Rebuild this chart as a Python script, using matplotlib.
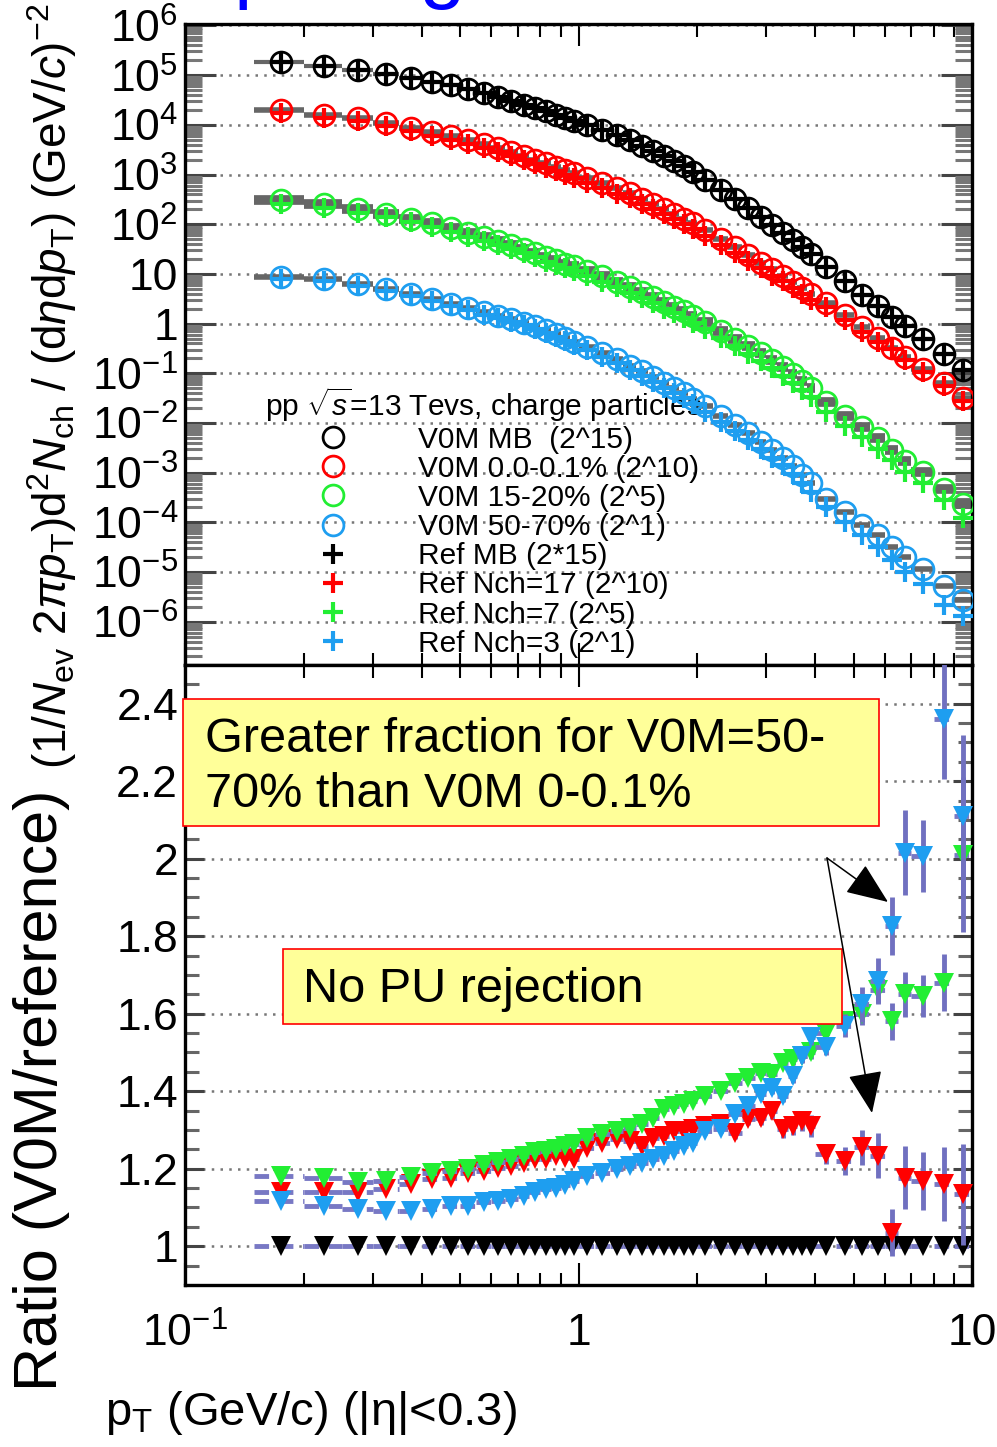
import numpy as np
import matplotlib
matplotlib.use("Agg")
import matplotlib.pyplot as plt
from matplotlib.lines import Line2D
from matplotlib.patches import Rectangle, FancyArrowPatch
from matplotlib.ticker import FixedLocator, FixedFormatter, LogLocator, MultipleLocator, NullFormatter

plt.rcParams['font.family'] = ['Liberation Sans', 'DejaVu Sans']
plt.rcParams['mathtext.fontset'] = 'custom'
plt.rcParams['mathtext.rm'] = 'Liberation Sans'
plt.rcParams['mathtext.it'] = 'Liberation Sans:italic'
plt.rcParams['mathtext.bf'] = 'Liberation Sans:bold'
plt.rcParams['mathtext.sf'] = 'Liberation Sans'

# pT binning (GeV/c)
pt_edges = [0.15, 0.2, 0.25, 0.3, 0.35, 0.4, 0.45, 0.5, 0.55, 0.6, 0.65, 0.7, 0.75, 0.8,
            0.85, 0.9, 0.95, 1.0, 1.1, 1.2, 1.3, 1.4, 1.5, 1.6, 1.7, 1.8, 1.9, 2.0, 2.2,
            2.4, 2.6, 2.8, 3.0, 3.2, 3.4, 3.6, 3.8, 4.0, 4.5, 5.0, 5.5, 6.0, 6.5, 7.0,
            8.0, 9.0, 10.0]

# spectra, log10 of the scaled yield
mb_v0m_log = [5.27, 5.19, 5.11, 5.03, 4.95, 4.87, 4.80, 4.72, 4.64, 4.56, 4.49, 4.41, 4.34,
              4.27, 4.20, 4.14, 4.08, 3.99, 3.89, 3.79, 3.69, 3.58, 3.48, 3.38, 3.28, 3.17,
              3.06, 2.89, 2.69, 2.50, 2.32, 2.15, 1.99, 1.83, 1.69, 1.55, 1.41, 1.14, 0.85,
              0.58, 0.35, 0.14, -0.04, -0.31, -0.62, -0.94]
mb_ref_log = [5.27, 5.19, 5.11, 5.03, 4.95, 4.87, 4.80, 4.72, 4.64, 4.56, 4.49, 4.41, 4.34,
              4.27, 4.20, 4.14, 4.08, 3.99, 3.89, 3.79, 3.69, 3.58, 3.48, 3.38, 3.28, 3.17,
              3.06, 2.89, 2.69, 2.50, 2.32, 2.15, 1.99, 1.83, 1.69, 1.55, 1.41, 1.14, 0.85,
              0.58, 0.35, 0.14, -0.04, -0.31, -0.62, -0.94]
hm_v0m_log = [4.30, 4.20, 4.13, 4.03, 3.94, 3.85, 3.77, 3.69, 3.61, 3.53, 3.46, 3.38, 3.30,
              3.23, 3.16, 3.09, 3.03, 2.94, 2.83, 2.72, 2.62, 2.51, 2.41, 2.31, 2.21, 2.11,
              2.02, 1.88, 1.70, 1.54, 1.38, 1.23, 1.09, 0.96, 0.83, 0.71, 0.60, 0.42, 0.17,
              -0.06, -0.28, -0.49, -0.67, -0.91, -1.19, -1.50]
hm_ref_log = [4.24, 4.14, 4.07, 3.97, 3.88, 3.78, 3.70, 3.61, 3.53, 3.45, 3.38, 3.30, 3.21,
              3.14, 3.07, 3.00, 2.94, 2.84, 2.73, 2.61, 2.52, 2.41, 2.30, 2.20, 2.10, 2.00,
              1.91, 1.76, 1.58, 1.43, 1.26, 1.11, 0.96, 0.85, 0.71, 0.59, 0.48, 0.33, 0.08,
              -0.16, -0.37, -0.51, -0.74, -0.98, -1.25, -1.56]
mid_v0m_log = [2.48, 2.40, 2.30, 2.21, 2.11, 2.02, 1.92, 1.83, 1.75, 1.67, 1.59, 1.51, 1.43,
               1.35, 1.28, 1.21, 1.15, 1.06, 0.95, 0.84, 0.73, 0.63, 0.53, 0.43, 0.34, 0.25,
               0.16, 0.03, -0.14, -0.30, -0.45, -0.60, -0.74, -0.88, -1.02, -1.16, -1.30,
               -1.58, -1.86, -2.09, -2.31, -2.54, -2.77, -2.99, -3.32, -3.62]
mid_ref_log = [2.41, 2.33, 2.23, 2.14, 2.04, 1.94, 1.84, 1.75, 1.67, 1.58, 1.50, 1.42, 1.34,
               1.25, 1.18, 1.11, 1.05, 0.95, 0.84, 0.73, 0.61, 0.51, 0.41, 0.30, 0.21, 0.11,
               0.02, -0.11, -0.29, -0.45, -0.61, -0.76, -0.90, -1.05, -1.19, -1.33, -1.48,
               -1.77, -2.06, -2.29, -2.53, -2.74, -2.99, -3.21, -3.55, -3.92]
low_v0m_log = [0.94, 0.90, 0.80, 0.70, 0.59, 0.49, 0.40, 0.31, 0.23, 0.16, 0.09, 0.02, -0.05,
               -0.13, -0.21, -0.29, -0.36, -0.47, -0.59, -0.72, -0.85, -0.96, -1.08, -1.20,
               -1.30, -1.40, -1.51, -1.66, -1.85, -2.04, -2.21, -2.39, -2.55, -2.71, -2.87,
               -3.04, -3.20, -3.52, -3.79, -4.05, -4.26, -4.49, -4.69, -4.93, -5.29, -5.56]
low_ref_log = [0.89, 0.86, 0.76, 0.66, 0.55, 0.45, 0.36, 0.27, 0.18, 0.11, 0.04, -0.03, -0.11,
               -0.19, -0.27, -0.35, -0.43, -0.54, -0.67, -0.80, -0.93, -1.05, -1.17, -1.29,
               -1.40, -1.50, -1.61, -1.77, -1.97, -2.17, -2.34, -2.53, -2.70, -2.85, -3.03,
               -3.21, -3.39, -3.70, -3.99, -4.26, -4.49, -4.75, -4.99, -5.23, -5.66, -5.88]

# ratios V0M / reference
ratio_mb = [1.0, 1.0, 1.0, 1.0, 1.0, 1.0, 1.0, 1.0, 1.0, 1.0, 1.0, 1.0, 1.0, 1.0, 1.0, 1.0,
            1.0, 1.0, 1.0, 1.0, 1.0, 1.0, 1.0, 1.0, 1.0, 1.0, 1.0, 1.0, 1.0, 1.0, 1.0, 1.0,
            1.0, 1.0, 1.0, 1.0, 1.0, 1.0, 1.0, 1.0, 1.0, 1.0, 1.0, 1.0, 1.0, 1.0]
ratio_hm = [1.14, 1.14, 1.139, 1.147, 1.16, 1.173, 1.177, 1.19, 1.194, 1.203, 1.207, 1.216,
            1.224, 1.224, 1.233, 1.229, 1.224, 1.254, 1.267, 1.276, 1.272, 1.259, 1.28, 1.285,
            1.298, 1.298, 1.302, 1.311, 1.315, 1.293, 1.328, 1.332, 1.349, 1.302, 1.311, 1.324,
            1.311, 1.237, 1.22, 1.255, 1.233, 1.035, 1.177, 1.169, 1.16, 1.134]
ratio_mid = [1.18, 1.175, 1.165, 1.168, 1.178, 1.19, 1.194, 1.20, 1.21, 1.218, 1.224, 1.233,
             1.242, 1.246, 1.25, 1.259, 1.263, 1.28, 1.289, 1.298, 1.306, 1.315, 1.332, 1.354,
             1.362, 1.367, 1.375, 1.388, 1.401, 1.422, 1.435, 1.448, 1.444, 1.474, 1.482, 1.491,
             1.50, 1.55, 1.58, 1.60, 1.66, 1.58, 1.65, 1.646, 1.68, 2.01]
ratio_low = [1.117, 1.105, 1.095, 1.091, 1.091, 1.095, 1.104, 1.104, 1.113, 1.117, 1.121, 1.13,
             1.139, 1.147, 1.151, 1.159, 1.168, 1.181, 1.19, 1.199, 1.207, 1.216, 1.224, 1.233,
             1.246, 1.259, 1.267, 1.298, 1.302, 1.341, 1.362, 1.392, 1.409, 1.388, 1.439, 1.491,
             1.539, 1.513, 1.569, 1.624, 1.685, 1.826, 2.016, 2.007, 2.36, 2.11]

err_mb = [0.002, 0.002, 0.002, 0.002, 0.002, 0.002, 0.002, 0.002, 0.002, 0.002, 0.002, 0.002,
          0.002, 0.002, 0.002, 0.002, 0.002, 0.002, 0.002, 0.002, 0.002, 0.002, 0.002, 0.002,
          0.002, 0.002, 0.002, 0.002, 0.002, 0.002, 0.002, 0.002, 0.002, 0.002, 0.002, 0.003,
          0.003, 0.003, 0.004, 0.004, 0.005, 0.006, 0.006, 0.007, 0.008, 0.01]
err_hm = [0.004, 0.004, 0.004, 0.004, 0.004, 0.004, 0.004, 0.004, 0.004, 0.004, 0.005, 0.005,
          0.005, 0.005, 0.005, 0.006, 0.006, 0.006, 0.007, 0.007, 0.008, 0.008, 0.009, 0.009,
          0.01, 0.011, 0.012, 0.012, 0.014, 0.015, 0.016, 0.018, 0.02, 0.022, 0.024, 0.026,
          0.028, 0.025, 0.037, 0.045, 0.058, 0.06, 0.082, 0.075, 0.095, 0.13]
err_mid = [0.003, 0.003, 0.003, 0.003, 0.003, 0.003, 0.003, 0.003, 0.003, 0.003, 0.003, 0.003,
           0.003, 0.003, 0.003, 0.004, 0.004, 0.004, 0.004, 0.005, 0.005, 0.005, 0.006, 0.006,
           0.007, 0.007, 0.008, 0.008, 0.009, 0.01, 0.011, 0.012, 0.013, 0.014, 0.015, 0.016,
           0.018, 0.02, 0.025, 0.03, 0.035, 0.047, 0.058, 0.054, 0.073, 0.2]
err_low = [0.003, 0.003, 0.003, 0.003, 0.003, 0.003, 0.003, 0.003, 0.003, 0.003, 0.003, 0.004,
           0.004, 0.004, 0.004, 0.004, 0.005, 0.005, 0.005, 0.006, 0.006, 0.007, 0.007, 0.008,
           0.008, 0.009, 0.01, 0.01, 0.011, 0.012, 0.013, 0.014, 0.015, 0.016, 0.017, 0.018,
           0.019, 0.02, 0.03, 0.045, 0.058, 0.075, 0.11, 0.093, 0.155, 0.21]

colors = ['#000000', '#ff0000', '#22ee33', '#1e9ef0']
v0m_labels = ['V0M MB  (2^15)', 'V0M 0.0-0.1% (2^10)', 'V0M 15-20% (2^5)', 'V0M 50-70% (2^1)']
ref_labels = ['Ref MB (2*15)', 'Ref Nch=17 (2^10)', 'Ref Nch=7 (2^5)', 'Ref Nch=3 (2^1)']

edges = np.array(pt_edges)
pt = 0.5 * (edges[1:] + edges[:-1])
pt_half = 0.5 * (edges[1:] - edges[:-1])

fig = plt.figure(figsize=(9.97, 14.47), dpi=100)
ax1 = fig.add_axes([0.1856, 0.54043, 0.7894, 0.44298])
ax2 = fig.add_axes([0.1856, 0.11196, 0.7894, 0.42847])

grid_kw = dict(color='#777777', linestyle=(0, (1, 2.5)), linewidth=1.8)

# ---- upper panel: spectra
spectra = [(mb_v0m_log, mb_ref_log, 3), (hm_v0m_log, hm_ref_log, 4),
           (mid_v0m_log, mid_ref_log, 7), (low_v0m_log, low_ref_log, 4)]
for (v0m, ref, blw), c in zip(spectra, colors):
    yv = 10 ** np.array(v0m)
    yr = 10 ** np.array(ref)
    ax1.errorbar(pt, yv, xerr=pt_half, fmt='none', ecolor='#666666', elinewidth=blw, zorder=2)
    ax1.plot(pt, yv, 'o', mfc='none', mec=c, ms=15, mew=2, zorder=3)
    ax1.plot(pt, yr, '+', color=c, ms=14, mew=3, zorder=4)

ax1.set_xscale('log')
ax1.set_yscale('log')
ax1.set_xlim(0.1, 10)
ax1.set_ylim(10 ** -6.87, 10 ** 6.03)
ydec = [6, 5, 4, 3, 2, 1, 0, -1, -2, -3, -4, -5, -6]
ylab = [r'$10^{%d}$' % d for d in ydec]
ylab[ydec.index(1)] = '10'
ylab[ydec.index(0)] = '1'
ax1.yaxis.set_major_locator(FixedLocator([10.0 ** d for d in ydec]))
ax1.yaxis.set_major_formatter(FixedFormatter(ylab))
ax1.yaxis.set_minor_locator(LogLocator(base=10, subs=np.arange(2, 10), numticks=30))
ax1.yaxis.set_minor_formatter(NullFormatter())
ax1.xaxis.set_minor_locator(LogLocator(base=10, subs=np.arange(2, 10), numticks=30))
ax1.xaxis.set_minor_formatter(NullFormatter())
ax1.tick_params(which='both', direction='in', left=True, right=True, top=True, bottom=True,
                labelbottom=False, labelsize=32, pad=5)
ax1.tick_params(axis='y', which='major', length=22, width=2.2, color='#444444')
ax1.tick_params(axis='y', which='minor', length=12, width=2.2, color='#777777')
ax1.tick_params(axis='x', which='major', length=16, width=1.5)
ax1.tick_params(axis='x', which='minor', length=9, width=1.5)
ax1.yaxis.grid(True, which='major', **grid_kw)
ax1.set_axisbelow(True)

handles = [Line2D([], [], ls='none', marker='o', mfc='none', mec=c, ms=15, mew=2) for c in colors]
handles += [Line2D([], [], ls='none', marker='+', color=c, ms=14, mew=3) for c in colors]
leg = ax1.legend(handles, v0m_labels + ref_labels, title=r'pp $\sqrt{s}$=13 Tevs, charge particles',
                 loc='upper left', bbox_to_anchor=(0.102, 0.436), frameon=False, fontsize=21.5,
                 title_fontsize=21.5, handlelength=4.55, handletextpad=0.57, labelspacing=0.04,
                 borderpad=0, borderaxespad=0, alignment='left')
leg.set_zorder(2.5)

# ---- lower panel: ratios
ratios = [(ratio_mb, err_mb), (ratio_hm, err_hm), (ratio_mid, err_mid), (ratio_low, err_low)]
for k, ((r, e), c) in enumerate(zip(ratios, colors)):
    xe = ax2.errorbar(pt, r, xerr=pt_half, fmt='none', ecolor='#7878c4', elinewidth=3.5, zorder=2 + k)
    xe[2][0].set_linestyle((0, (3, 2)))
    ax2.errorbar(pt, r, yerr=e, fmt='none', ecolor='#7070c0', elinewidth=3.5, zorder=2 + k)
    ax2.plot(pt, r, 'v', color=c, ms=15, mew=0, zorder=2.5 + k)

ax2.set_xscale('log')
ax2.set_xlim(0.1, 10)
ax2.set_ylim(0.9, 2.5)
rt = [1.0, 1.2, 1.4, 1.6, 1.8, 2.0, 2.2, 2.4]
ax2.yaxis.set_major_locator(FixedLocator(rt))
ax2.yaxis.set_major_formatter(FixedFormatter(['1', '1.2', '1.4', '1.6', '1.8', '2', '2.2', '2.4']))
ax2.yaxis.set_minor_locator(MultipleLocator(0.05))
ax2.xaxis.set_major_locator(FixedLocator([0.1, 1.0, 10.0]))
ax2.xaxis.set_major_formatter(FixedFormatter([r'$10^{-1}$', '1', '10']))
ax2.xaxis.set_minor_locator(LogLocator(base=10, subs=np.arange(2, 10), numticks=30))
ax2.xaxis.set_minor_formatter(NullFormatter())
ax2.tick_params(which='both', direction='in', left=True, right=True, top=True, bottom=True,
                labelsize=32)
ax2.tick_params(axis='y', which='major', length=14, width=2.2, color='#444444', pad=5)
ax2.tick_params(axis='y', which='minor', length=10, width=2.2, color='#666666')
ax2.tick_params(axis='x', which='major', length=16, width=1.5, pad=20)
ax2.tick_params(axis='x', which='minor', length=9, width=1.5)
ax2.yaxis.grid(True, which='major', **grid_kw)
ax2.set_axisbelow(True)

for ax in (ax1, ax2):
    for s in ax.spines.values():
        s.set_linewidth(2.4)

# ---- axis titles
fig.text(52 / 997, 1 - 386 / 1447,
         r'$(1/N_{\rm ev}\ 2\pi p_{\rm T})\mathrm{d}^{2}N_{\rm ch}\ /\ (\mathrm{d}\eta\mathrm{d}p_{\rm T})\ (\mathrm{GeV}/c)^{-2}$',
         rotation=90, ha='center', va='center', fontsize=33)
fig.text(42 / 997, 1 - 1090 / 1447, 'Ratio (V0M/reference)', rotation=90,
         ha='center', va='center', fontsize=44)
fig.text(105 / 997, 1 - 1425 / 1447, r'p$_{\mathrm{T}}$ (GeV/c) (|η|<0.3)',
         ha='left', va='baseline', fontsize=34)

# cut-off slide title above the plot
fig.text(59 / 997, 1 + 7 / 1447, 'Comparing', color='#0000ff', fontsize=60,
         ha='left', va='baseline')

# ---- annotation boxes
box_kw = dict(transform=fig.transFigure, facecolor='#ffff99', edgecolor='#ff0000', linewidth=1.2)
fig.patches.append(Rectangle((183 / 997, 1 - 826 / 1447), 696 / 997, 127 / 1447, **box_kw))
fig.patches.append(Rectangle((283 / 997, 1 - 1024 / 1447), 559 / 997, 75 / 1447, **box_kw))
fig.text(205 / 997, 1 - 752 / 1447, 'Greater fraction for V0M=50-', fontsize=35,
         ha='left', va='baseline', zorder=5)
fig.text(205 / 997, 1 - 807 / 1447, '70% than V0M 0-0.1%', fontsize=35,
         ha='left', va='baseline', zorder=5)
fig.text(303 / 997, 1 - 1002 / 1447, 'No PU rejection', fontsize=35,
         ha='left', va='baseline', zorder=5)

start = (827 / 997, 1 - 858 / 1447)
for end in [(888 / 997, 1 - 902 / 1447), (872 / 997, 1 - 1113 / 1447)]:
    arr = FancyArrowPatch(start, end, transform=fig.transFigure,
                          arrowstyle='-|>,head_length=1.1,head_width=0.45', mutation_scale=24,
                          lw=1.1, color='black', shrinkA=0, shrinkB=0)
    fig.patches.append(arr)

fig.savefig('out.png', dpi=100)
